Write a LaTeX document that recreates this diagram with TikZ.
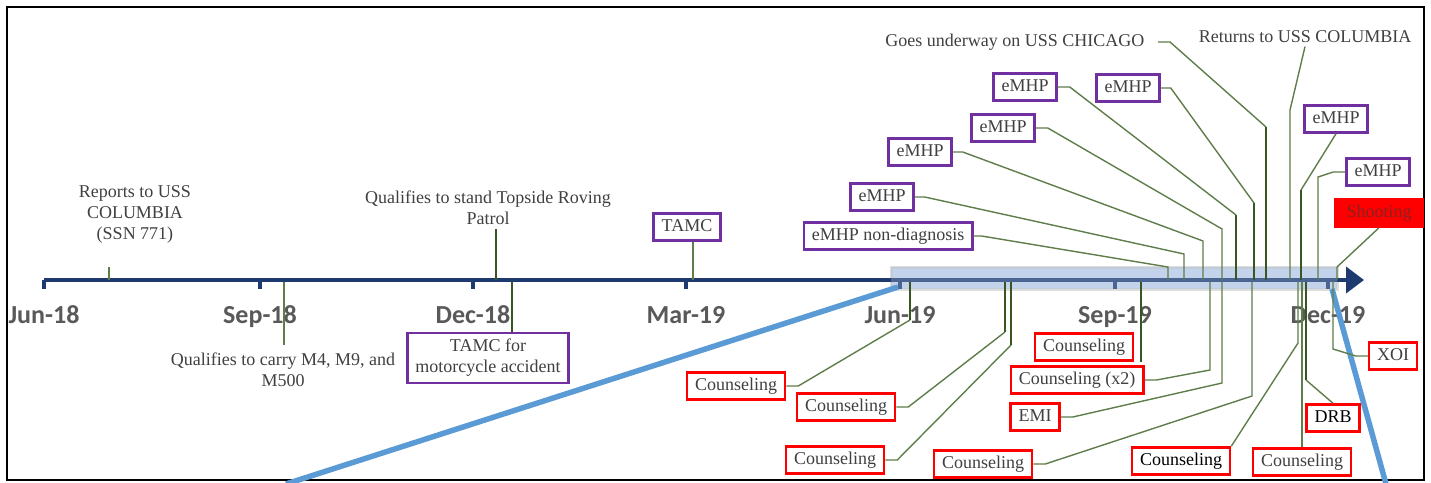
\documentclass[tikz,border=0pt]{standalone}
\usepackage{fontspec}
\setmainfont{Liberation Serif}
\newfontfamily\monthfamily{Carlito}
\usetikzlibrary{arrows.meta}

\definecolor{evgray}{HTML}{404040}
\definecolor{monthgray}{HTML}{595959}
\definecolor{axisblue}{HTML}{1F3A6E}
\definecolor{bandblue}{HTML}{B4C7E7}
\definecolor{zoomblue}{HTML}{5B9BD5}
\definecolor{stemgreen}{HTML}{5E7D4B}
\definecolor{stemdark}{HTML}{375623}
\definecolor{boxpurple}{HTML}{7030A0}
\definecolor{boxred}{HTML}{FF0000}
\definecolor{shootred}{HTML}{8B2020}

\tikzset{
  evtext/.style={font=\fontsize{18}{21}\selectfont, text=evgray, align=center},
  purplebox/.style={draw=boxpurple, line width=2.5pt, fill=white, align=center,
    font=\fontsize{18}{21}\selectfont, text=evgray, inner xsep=8pt, inner ysep=5pt,
    text height=13pt, text depth=4pt},
  redbox/.style={purplebox, draw=boxred},
  month/.style={font=\monthfamily\bfseries\fontsize{26}{30}\selectfont, text=monthgray, anchor=base},
  axisline/.style={draw=axisblue, line width=4pt},
  stem/.style={draw=stemgreen, line width=1.4pt},
  thickstem/.style={draw=stemdark, line width=2.8pt},
}

\begin{document}
\begin{tikzpicture}[x=1pt,y=-1pt]
\useasboundingbox (0,0) rectangle (1431,482);

% frame
\draw[line width=2.5pt] (7,7) rectangle (1424,480);

% highlighted stretch
\draw[gray!45, line width=3pt, draw opacity=.6, fill=bandblue, fill opacity=.7] (891,267) rectangle (1337,289);

% time axis
\draw[axisline, -{Triangle[length=18pt,width=26pt]}] (44,280) -- (1364,280);
\foreach \x/\m in {44/Jun-18, 260/Sep-18, 473/Dec-18, 686/Mar-19, 900/Jun-19, 1115/Sep-19, 1328/Dec-19}{
  \draw[axisline] (\x,280) -- (\x,289);
  \node[month] (m\x) at (\x,323) {\m};
}
\fill[bandblue, opacity=.3] (891,267) rectangle (1337,289);

% zoom lines
\draw[zoomblue, line width=5.5pt] (898,287) -- (286,484);
\draw[zoomblue, line width=5.5pt] (1332,289) -- (1386,484);

% points on the axis
\coordinate (d1) at (109,280);
\coordinate (d2) at (284,282);
\coordinate (d3) at (496,280);
\coordinate (d4) at (512,282);
\coordinate (d5) at (693,280);

% events before the stretch
\node[evtext] (reports) at (135,214) {Reports to USS\\COLUMBIA\\(SSN 771)};
\node[evtext] (carry) at (283,370) {Qualifies to carry M4, M9, and\\M500};
\node[evtext] (topside) at (488,208) {Qualifies to stand Topside Roving\\Patrol};
\node[purplebox, text height=, text depth=, inner ysep=6pt] (tamcmoto) at (488,358) {TAMC for\\motorcycle accident};
\node[purplebox] (tamc) at (687,227) {TAMC};

\draw[stem] (d1) -- ++(0,-13);
\draw[stem] (d2) -- ++(0,63);
\draw[thickstem] (d3) -- ++(0,-51);
\draw[thickstem] (d4) -- (d4 |- tamcmoto.north);
\draw[stem] (d5) -- (d5 |- tamc.south);

% events above the stretch
\node[purplebox] (emhpnd) at (888,236) {eMHP non-diagnosis};
\node[purplebox] (emhpa) at (882,197) {eMHP};
\node[purplebox] (emhpb) at (920,152) {eMHP};
\node[purplebox] (emhpc) at (1003,128) {eMHP};
\node[purplebox] (emhpd) at (1025,87) {eMHP};
\node[purplebox] (emhpe) at (1128,88) {eMHP};
\node[evtext, anchor=east] (chicago) at (1148,42) {Goes underway on USS CHICAGO};
\node[evtext] (columbia) at (1305,37) {Returns to USS COLUMBIA};
\node[purplebox] (emhpf) at (1336,119) {eMHP};
\node[purplebox] (emhpg) at (1378,172) {eMHP};
\node[redbox, fill=red, text=shootred, minimum width=87pt] (shooting) at (1379,213) {Shooting};

\coordinate (u1) at (1168,280);
\coordinate (u2) at (1184,280);
\coordinate (u3) at (1203,280);
\coordinate (u4) at (1222,280);
\coordinate (u5) at (1236,280);
\coordinate (u6) at (1254,280);
\coordinate (u7) at (1266,280);
\coordinate (u8) at (1290,280);
\coordinate (u9) at (1301,280);
\coordinate (u10) at (1318,280);
\coordinate (u11) at (1337,280);

\draw[stem] (emhpnd.east) -- ++(8,0) -- (1168,267) -- (u1);
\draw[stem] (emhpa.east) -- ++(10,0) -- (1184,254) -- (u2);
\draw[stem] (emhpb.east) -- ++(10,0) -- (1203,241) -- (u3);
\draw[stem] (emhpc.east) -- ++(12,0) -- (1222,229) -- (u4);
\draw[stem] (emhpd.east) -- ++(12,0) -- (1236,215);
\draw[thickstem] (1236,215) -- (u5);
\draw[stem] (emhpe.east) -- ++(10,0) -- (1254,203);
\draw[thickstem] (1254,203) -- (u6);
\draw[stem] ([xshift=10pt]chicago.east) -- ++(12,0) -- (1266,127);
\draw[thickstem] (1266,127) -- (u7);
\draw[stem] (columbia.south) -- (1290,110) -- (u8);
\draw[stem] (emhpf.south) -- (1301,190);
\draw[thickstem] (1301,190) -- (u9);
\draw[stem] (emhpg.west) -- ++(-12,0) -- (1318,177) -- (u10);
\draw[stem] (shooting.south) -- (1337,267) -- (u11);

% events below the stretch
\node[redbox] (cnsa) at (736,386) {Counseling};
\node[redbox] (cnsb) at (846,407) {Counseling};
\node[redbox] (cnsc) at (835,460) {Counseling};
\node[redbox] (cnsd) at (1084,347) {Counseling};
\node[redbox] (cnsx) at (1077,380) {Counseling (x2)};
\node[redbox] (emi) at (1035,417) {EMI};
\node[redbox] (cnse) at (983,464) {Counseling};
\node[redbox, text=black] (cnsf) at (1181,461) {Counseling};
\node[redbox] (cnsg) at (1302,462) {Counseling};
\node[redbox, text=black] (drb) at (1333,418) {DRB};
\node[redbox] (xoi) at (1393,356) {XOI};

\coordinate (l1) at (910,282);
\coordinate (l2) at (1005,282);
\coordinate (l3) at (1011,282);
\coordinate (l4) at (1141,282);
\coordinate (l5) at (1210,282);
\coordinate (l6) at (1222,282);
\coordinate (l7) at (1252,282);
\coordinate (l8) at (1298,282);
\coordinate (l9) at (1302,282);
\coordinate (l10) at (1306,282);
\coordinate (l11) at (1333,282);

\draw[stem] (cnsa.east) -- ++(12,0) -- (910,320);
\draw[thickstem, line width=2.2pt] (910,320) -- (l1);
\draw[stem] (cnsb.east) -- ++(12,0) -- (1005,332);
\draw[thickstem, line width=2.2pt] (1005,332) -- (l2);
\draw[stem] (cnsc.east) -- ++(12,0) -- (1011,345);
\draw[thickstem, line width=2.2pt] (1011,345) -- (l3);
\draw[thickstem] (l4) -- (l4 |- cnsd.south);
\draw[stem] (cnsx.east) -- ++(12,0) -- (1210,370) -- (l5);
\draw[stem] (emi.east) -- ++(12,0) -- (1222,383) -- (l6);
\draw[stem] (cnse.east) -- ++(12,0) -- (1252,396) -- (l7);
\draw[stem] (cnsf.north east) -- (1298,343) -- (l8);
\draw[stem] (cnsg.north) -- (l9);
\draw[stem] (drb.north) -- (1306,380);
\draw[thickstem] (1306,380) -- (l10);
\draw[stem] (xoi.west) -- ++(-12,0) -- (1333,349) -- (l11);

\end{tikzpicture}
\end{document}
